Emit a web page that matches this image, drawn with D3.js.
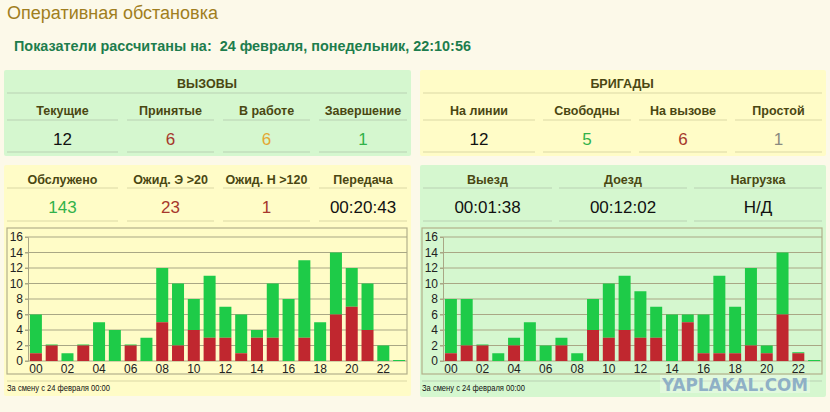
<!DOCTYPE html>
<html><head><meta charset="utf-8">
<script src="https://cdn.jsdelivr.net/npm/d3@7/dist/d3.min.js"></script>
<style>
html,body{margin:0;padding:0;background:#fcf9e9;}
svg{display:block;}
text{font-family:"Liberation Sans",Arial,sans-serif;}
</style></head>
<body>
<svg id="c" width="830" height="412"></svg>
<script>
// ---- data ----
const hours = ["00","01","02","03","04","05","06","07","08","09","10","11","12","13","14","15","16","17","18","19","20","21","22","23"];
const callsTotal = [6,2,1,2,5,4,2,3,12,10,8,11,7,6,4,10,8,13,5,14,12,10,2,0];
const callsRed   = [1,2,0,2,0,0,2,0,5,2,4,3,3,1,3,3,0,3,0,6,7,4,0,0];
const brigTotal  = [8,8,2,1,3,5,2,3,1,8,10,11,9,7,6,6,6,11,7,12,2,14,1,0];
const brigRed    = [1,2,2,0,2,0,0,2,0,4,3,4,3,3,0,5,1,1,1,2,1,6,1,0];
const yTicks = [0,2,4,6,8,10,12,14,16];

const callsHeaders = ["Текущие","Принятые","В работе","Завершение"];
const callsValues  = ["12","6","6","1"];
const brigHeaders  = ["На линии","Свободны","На вызове","Простой"];
const brigValues   = ["12","5","6","1"];
const svcHeaders   = ["Обслужено","Ожид. Э >20","Ожид. Н >120","Передача"];
const svcValues    = ["143","23","1","00:20:43"];
const timeHeaders  = ["Выезд","Доезд","Нагрузка"];
const timeValues   = ["00:01:38","00:12:02","Н/Д"];

const title = "Оперативная обстановка";
const subtitle = "Показатели рассчитаны на:  24 февраля, понедельник, 22:10:56";
const footer = "За смену с 24 февраля 00:00";

// ---- styles ----
const C = {
  green:"#d5f7cf", yellow:"#fffcc7", head:"#4a4712",
  black:"#111111", red:"#a6382c", orange:"#e3a733", lgreen:"#32b24a", grey:"#8a8a80",
  barG:"#1ecb48", barR:"#c0272f", grid:"#a9a785", box:"#b3b08a"
};
const callsColors = [C.black,C.red,C.orange,C.lgreen];
const brigColors  = [C.black,C.lgreen,C.red,C.grey];
const svcColors   = [C.lgreen,C.red,C.red,C.black];
const timeColors  = [C.black,C.black,C.black];

const svg = d3.select("#c");

svg.append("text").attr("x",7).attr("y",19).attr("fill","#a07e20")
  .style("font-size","18px").text(title);
svg.append("text").attr("x",14).attr("y",51).attr("fill","#1d7d4d")
  .style("font-size","14.4px").style("font-weight","bold").style("white-space","pre").text(subtitle);

function line(g,x1,x2,y,col){
  g.append("line").attr("x1",x1).attr("x2",x2).attr("y1",y).attr("y2",y)
   .attr("stroke",col).attr("stroke-width",1.2);
}

function panel(x,y,w,h,bg){
  const g = svg.append("g");
  g.append("rect").attr("x",x).attr("y",y).attr("width",w).attr("height",h)
    .attr("rx",2).attr("fill",bg);
  return g;
}

function table(g,cols,headers,values,colors,yH,yHl,yV,yVl,sepCol){
  headers.forEach((h,i)=>{
    const [a,b]=cols[i], cx=(a+b)/2;
    g.append("text").attr("x",cx).attr("y",yH).attr("text-anchor","middle")
      .attr("fill",C.head).style("font-size","12.5px").style("font-weight","bold").text(h);
    line(g,a,b,yHl,sepCol);
    g.append("text").attr("x",cx).attr("y",yV).attr("text-anchor","middle")
      .attr("fill",colors[i]).style("font-size","17px").text(values[i]);
    line(g,a,b,yVl,sepCol);
  });
}

const sepG = "#b9d2b3", sepY = "#dcd7a6";
const cols4L = [[7,118],[127,214],[223,310],[319,407]];
const cols4R = [[423,535],[543,631],[639,727],[735,822]];
const cols3R = [[423,552],[559,687],[694,822]];

// Panel 1: ВЫЗОВЫ
let p1 = panel(4,70,407,86,C.green);
p1.append("text").attr("x",207).attr("y",88).attr("text-anchor","middle").attr("fill",C.head)
  .style("font-size","12.5px").style("font-weight","bold").text("ВЫЗОВЫ");
line(p1,7,407,93,sepG);
table(p1,cols4L,callsHeaders,callsValues,callsColors,115,120,145,152,sepG);

// Panel 2: БРИГАДЫ
let p2 = panel(420,70,406,86,C.yellow);
p2.append("text").attr("x",622).attr("y",88).attr("text-anchor","middle").attr("fill",C.head)
  .style("font-size","12.5px").style("font-weight","bold").text("БРИГАДЫ");
line(p2,423,822,93,sepY);
table(p2,cols4R,brigHeaders,brigValues,brigColors,115,120,145,152,sepY);

// Panel 3 and 4
let p3 = panel(4,165,407,231,C.yellow);
table(p3,cols4L,svcHeaders,svcValues,svcColors,184,188,213,221,sepY);
let p4 = panel(420,165,406,232,C.green);
table(p4,cols3R,timeHeaders,timeValues,timeColors,184,188,213,221,sepG);

function chart(g,x0,total,red,sepCol){
  g.append("rect").attr("x",x0).attr("y",228).attr("width",400).attr("height",146)
    .attr("fill","none").attr("stroke",C.box).attr("stroke-width",1.2);
  const y = d3.scaleLinear().domain([0,16]).range([361,237]);
  const x = d3.scaleBand().domain(hours).range([x0+21,x0+400]).paddingInner(0.24).paddingOuter(0.12);
  g.append("g").selectAll("line").data(yTicks).join("line")
    .attr("x1",x0+18).attr("x2",x0+400).attr("y1",d=>y(d)).attr("y2",d=>y(d))
    .attr("stroke",C.grid).attr("stroke-width",1);
  const ax = g.append("g").attr("transform",`translate(${x0+21},0)`)
    .call(d3.axisLeft(y).tickValues(yTicks).tickSize(3).tickPadding(2));
  ax.select(".domain").attr("stroke",C.grid);
  ax.selectAll(".tick line").attr("stroke",C.grid);
  ax.selectAll("text").attr("fill","#222").style("font-size","12px")
    .style("font-family","'Liberation Sans',Arial,sans-serif");
  const data = hours.map((h,i)=>({h,t:total[i],r:red[i]}));
  g.append("g").selectAll("rect").data(data).join("rect")
    .attr("x",d=>x(d.h)).attr("width",x.bandwidth())
    .attr("y",d=>Math.min(y(d.t),y(d.r)-1)).attr("height",d=>Math.max(y(d.r)-y(d.t),1))
    .attr("fill",C.barG);
  g.append("g").selectAll("rect").data(data.filter(d=>d.r>0)).join("rect")
    .attr("x",d=>x(d.h)).attr("width",x.bandwidth())
    .attr("y",d=>y(d.r)).attr("height",d=>y(0)-y(d.r))
    .attr("fill",C.barR);
  const xa = g.append("g").attr("transform","translate(0,361)")
    .call(d3.axisBottom(x).tickValues(hours.filter((h,i)=>i%2===0)).tickSize(0).tickPadding(3));
  xa.select(".domain").remove();
  xa.selectAll("text").attr("fill","#222").style("font-size","12px")
    .style("font-family","'Liberation Sans',Arial,sans-serif");
  line(g,x0,x0+400,381,sepCol);
  g.append("text").attr("x",x0).attr("y",391).attr("fill","#111")
    .style("font-size","9px").attr("textLength",103).attr("lengthAdjust","spacingAndGlyphs").text(footer);
}
chart(p3,7,callsTotal,callsRed,sepY);
chart(p4,422,brigTotal,brigRed,sepG);

// watermark
const wm = svg.append("g");
wm.append("rect").attr("x",660).attr("y",375).attr("width",150).attr("height",18).attr("fill","#ffffff").attr("opacity",0.3);
wm.append("text").attr("x",735).attr("y",391).attr("text-anchor","middle").attr("fill","#8fb0c6")
  .style("font-size","18px").style("font-weight","bold").style("font-family","'DejaVu Sans',sans-serif")
  .attr("textLength",146).attr("lengthAdjust","spacingAndGlyphs").text("YAPLAKAL.COM");
</script>
</body></html>
